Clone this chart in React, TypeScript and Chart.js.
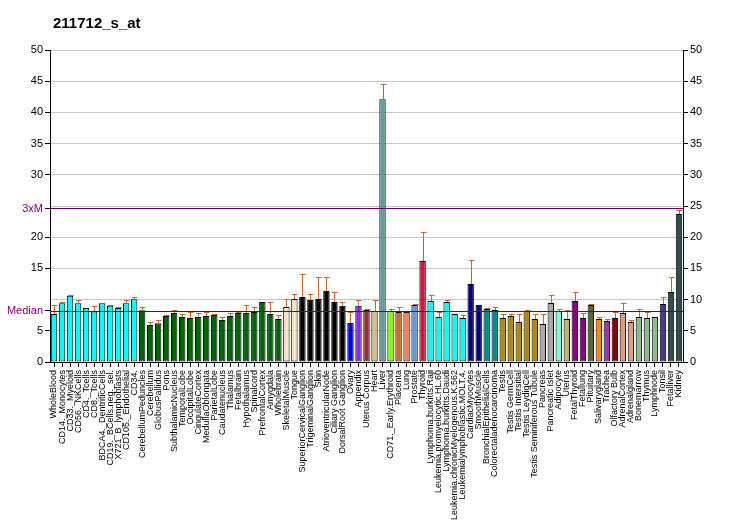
import React, { useEffect, useRef } from "react";
import { Chart, registerables } from "chart.js";

Chart.register(...registerables);

const TITLE = "211712_s_at";

const categories = [
  "WholeBlood", "CD14._Monocytes", "CD33._Myeloid", "CD56._NKCells", "CD4._Tcells", "CD8._Tcells",
  "BDCA4._DentriticCells", "CD19._BCells.neg._sel.", "X721_B_lymphoblasts", "CD105._Endothelial", "CD34.",
  "CerebellumPeduncles", "Cerebellum", "GlobusPallidus", "Pons", "SubthalamicNucleus", "TemporalLobe",
  "OccipitalLobe", "CingulateCortex", "MedullaOblongata", "ParietalLobe", "Caudatenucleus", "Thalamus",
  "Fetalbrain", "Hypothalamus", "Spinalcord", "PrefrontalCortex", "Amygdala", "Wholebrain",
  "SkeletalMuscle", "Tongue", "SuperiorCervicalGanglion", "TrigeminalGanglion", "Skin",
  "AtrioventricularNode", "Ciliary Ganglion", "DorsalRoot Ganglion", "Ovary", "Appendix", "Uterus Corpus",
  "Heart", "Liver", "CD71._Early.Erythroid", "Placenta", "Lung", "Prostate", "Thyroid",
  "Lymphoma.burkitts.Raji", "Leukemia.promyelocytic.HL.60", "Lymphoma.burkitts.Daudi",
  "Leukemia.chronicMyelogenous.K.562", "Leukemialymphoblastic.MOLT.4.", "CardiacMyocytes", "SmoothMuscle",
  "BronchialEpithelialCells", "Colorectaladenocarcinoma", "Testis", "Testis GermCell", "Testis Intersitial",
  "Testis LeydigCell", "Testis Seminiferous Tubule", "Pancreas", "Pancreatic Islet", "Adipocyte", "Uterus",
  "FetalThyroid", "Fetallung", "Pituitary", "Salivarygland", "Trachea", "Olfactory Bulb", "AdrenalCortex",
  "Adrenalgland", "Bonemarrow", "Thymus", "Lymphnode", "Tonsil", "Fetalliver", "Kidney",
];

const values = [
  7.7, 9.4, 10.6, 9.4, 8.65, 8.1, 9.4, 9.0, 8.65, 9.4, 10.05,
  8.28, 5.93, 6.2, 7.37, 7.85, 7.2, 7.05, 7.2, 7.37, 7.53, 6.73, 7.37,
  7.85, 7.85, 8.0, 9.6, 7.7, 6.9,
  8.8, 10.1, 10.4, 9.93, 10.1, 11.38, 9.6, 9.0, 6.25, 9.0, 8.33,
  8.17, 42.1, 8.17, 8.0, 8.0, 9.13, 16.2,
  9.77, 7.2, 9.6, 7.7, 7.05, 12.5, 9.13,
  8.5, 8.33, 7.05, 7.37, 6.4, 8.17, 6.9, 6.1, 9.45, 8.17, 6.9,
  9.77, 7.05, 9.13, 6.9, 6.57, 7.05, 7.85, 6.4, 7.2, 7.05, 7.2, 9.3, 11.2, 23.7,
];

const errorTops = [
  9.1, 9.6, 10.7, 10.0, 8.65, 8.9, 9.4, 9.1, 8.75, 10.0, 10.35,
  8.75, 6.35, 6.7, 7.5, 8.28, 7.65, 8.0, 7.85, 7.95, 7.65, 7.2, 7.8,
  8.0, 9.1, 8.75, 9.6, 9.6, 7.5,
  10.05, 10.85, 14.05, 10.85, 13.7, 13.7, 11.17, 9.6, 7.95, 10.0, 8.45,
  10.0, 44.5, 8.5, 8.8, 8.0, 9.3, 20.9,
  10.7, 8.0, 9.9, 7.7, 7.5, 16.3, 9.13,
  8.65, 8.8, 7.65, 7.65, 7.65, 8.3, 7.65, 7.65, 10.7, 8.5, 8.3,
  11.2, 7.85, 9.3, 7.2, 6.9, 8.0, 9.45, 6.7, 8.5, 8.0, 7.2, 10.35, 13.6, 24.3,
];

const MEDIAN = 8.2;
const THREE_X_M = 24.6;
const yTicks = [0, 5, 10, 15, 20, 25, 30, 35, 40, 45, 50];

// group colours, run-length: [colour, count]
const groupColors: [string, number][] = [
  ["#00FFFF", 11], ["#006400", 18], ["#FFE4C4", 2], ["#000000", 6], ["#0000FF", 1], ["#8A2BE2", 1],
  ["#A52A2A", 1], ["#DEB887", 1], ["#5F9EA0", 1], ["#7FFF00", 1], ["#D2691E", 1], ["#FF7F50", 1],
  ["#6495ED", 1], ["#DC143C", 1], ["#00FFFF", 5], ["#00008B", 2], ["#008B8B", 2], ["#B8860B", 5],
  ["#A9A9A9", 2], ["#7FFFD4", 1], ["#BDB76B", 1], ["#8B008B", 2], ["#556B2F", 1], ["#FF8C00", 1],
  ["#9932CC", 1], ["#8B0000", 1], ["#E9967A", 2], ["#8FBC8F", 3], ["#483D8B", 1], ["#2F4F4F", 2],
];

const barColors: string[] = groupColors.flatMap(([c, n]) => Array(n).fill(c));

const PURPLE = "#800080";
const LINE_PURPLE = "#660066";
const ERR_COLOR = "#C8662E";

export default function App() {
  const ref = useRef<HTMLCanvasElement | null>(null);

  useEffect(() => {
    if (!ref.current) return;

    const overlay = {
      id: "overlay",
      afterDatasetsDraw(chart: any) {
        const { ctx, chartArea } = chart;
        const y = chart.scales.y;
        const meta = chart.getDatasetMeta(0);
        ctx.save();
        // error bars
        ctx.strokeStyle = ERR_COLOR;
        ctx.lineWidth = 1;
        meta.data.forEach((bar: any, i: number) => {
          const top = errorTops[i];
          if (top == null || top <= values[i] + 0.05) return;
          const x = Math.round(bar.x) + 0.5;
          const y0 = y.getPixelForValue(values[i]);
          const y1 = Math.round(y.getPixelForValue(top)) + 0.5;
          ctx.beginPath();
          ctx.moveTo(x, y0);
          ctx.lineTo(x, y1);
          ctx.moveTo(x - 2.5, y1);
          ctx.lineTo(x + 3, y1);
          ctx.stroke();
        });
        // median and 3xM lines
        ctx.strokeStyle = LINE_PURPLE;
        [MEDIAN, THREE_X_M].forEach((v) => {
          const py = Math.round(y.getPixelForValue(v)) + 0.5;
          ctx.beginPath();
          ctx.moveTo(chartArea.left, py);
          ctx.lineTo(chartArea.right, py);
          ctx.stroke();
        });
        // title
        ctx.fillStyle = "#000";
        ctx.font = "bold 15px 'Liberation Sans', Arial, sans-serif";
        ctx.textAlign = "left";
        ctx.textBaseline = "alphabetic";
        ctx.fillText(TITLE, chartArea.left + 3, 28);
        ctx.restore();
      },
    };

    const chart = new Chart(ref.current, {
      type: "bar",
      data: {
        labels: categories,
        datasets: [
          {
            data: values,
            backgroundColor: barColors,
            borderColor: "#000",
            borderWidth: 1,
            borderSkipped: false,
            barPercentage: 0.8,
            categoryPercentage: 1,
            yAxisID: "y",
          },
        ],
      },
      options: {
        animation: false,
        responsive: false,
        maintainAspectRatio: false,
        layout: { padding: { top: 50, left: 0, right: 0, bottom: 0 } },
        plugins: { legend: { display: false }, tooltip: { enabled: false }, title: { display: false } },
        scales: {
          x: {
            offset: true,
            afterFit: (s: any) => { s.height = 168; },
            grid: { display: true, drawOnChartArea: false, offset: false, tickLength: 5, color: "#000", tickColor: "#000" },
            border: { color: "#000", width: 1 },
            ticks: {
              autoSkip: false,
              minRotation: 90,
              maxRotation: 90,
              padding: 3,
              color: "#000",
              font: { family: "'Liberation Sans', Arial, sans-serif", size: 9 },
            },
          },
          y: {
            position: "right",
            min: 0,
            max: 50,
            afterFit: (s: any) => { s.width = 49; },
            afterBuildTicks: (s: any) => { s.ticks = yTicks.map((v) => ({ value: v })); },
            grid: { color: "#C8C8C8", tickColor: "#000", tickLength: 5, drawOnChartArea: true },
            border: { color: "#000", width: 1 },
            ticks: {
              color: "#000",
              padding: 2,
              font: { family: "'Liberation Sans', Arial, sans-serif", size: 11 },
            },
          },
          yL: {
            position: "left",
            min: 0,
            max: 50,
            afterFit: (s: any) => { s.width = 50; },
            afterBuildTicks: (s: any) => {
              const t = [0, 5, MEDIAN, 15, 20, THREE_X_M, 30, 35, 40, 45, 50];
              s.ticks = t.map((v) => ({ value: v }));
            },
            grid: { drawOnChartArea: false, tickColor: "#000", tickLength: 5 },
            border: { color: "#000", width: 1 },
            ticks: {
              padding: 2,
              font: { family: "'Liberation Sans', Arial, sans-serif", size: 11 },
              color: (c: any) => (c.tick && (c.tick.value === MEDIAN || c.tick.value === THREE_X_M) ? PURPLE : "#000"),
              callback: (v: any) => (v === MEDIAN ? "Median" : v === THREE_X_M ? "3xM" : String(v)),
            },
          },
        },
      },
      plugins: [overlay],
    });

    return () => chart.destroy();
  }, []);

  return (
    <div style={{ position: "fixed", left: 0, top: 0, width: 732, height: 530, background: "#fff" }}>
      <canvas ref={ref} width={732} height={530} style={{ width: 732, height: 530, display: "block" }} />
    </div>
  );
}
